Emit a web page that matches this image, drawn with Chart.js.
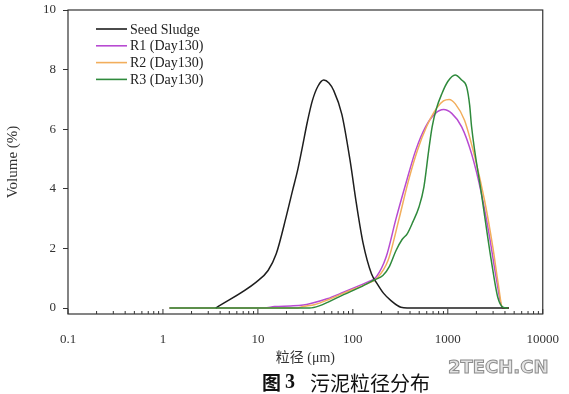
<!DOCTYPE html>
<html>
<head>
<meta charset="utf-8">
<script src="https://cdn.jsdelivr.net/npm/chart.js@4.4.1/dist/chart.umd.min.js"></script>
<style>
  html, body { margin: 0; padding: 0; background: #fff; }
  #wrap { width: 569px; height: 394px; }
</style>
</head>
<body>
<div id="wrap"><canvas id="psd"></canvas></div>
<script>
// particle size (um) and volume (%)
const seedSize = [3.6, 9.6, 12.8, 15.6, 19.8, 23.2, 26.1, 29.4, 33.2, 37.4, 43, 49.4, 56, 62.8, 76.6, 93.4, 109, 128.5, 157, 180, 210, 252, 321, 459, 4400];
const seedVol  = [0, 0.87, 1.26, 1.82, 3.05, 3.95, 4.6, 5.4, 6.25, 6.95, 7.45, 7.65, 7.55, 7.3, 6.5, 4.96, 3.5, 2.16, 1.15, 0.82, 0.5, 0.25, 0.03, 0, 0];

const r1Size = [1.17, 11.7, 15, 22, 30, 36, 53.5, 79.6, 118.6, 150, 177, 224, 285, 361, 459, 583, 740, 903, 1100, 1400, 1778, 2260, 2755, 3230, 3780, 4400];
const r1Vol  = [0, 0, 0.05, 0.07, 0.1, 0.15, 0.31, 0.53, 0.76, 0.9, 1.05, 1.71, 3.0, 4.17, 5.29, 6.08, 6.53, 6.66, 6.53, 6.08, 5.18, 3.84, 2.38, 1.03, 0, 0];

const r2Size = [1.17, 25, 30, 40, 55, 80, 120, 150, 180, 235, 307, 380, 480, 600, 760, 900, 1033, 1200, 1500, 1923, 2443, 2980, 3400, 3780, 4400];
const r2Vol  = [0, 0, 0.05, 0.12, 0.28, 0.5, 0.72, 0.85, 1.0, 1.6, 3.0, 4.2, 5.3, 6.1, 6.7, 6.95, 7.0, 6.85, 6.3, 5.07, 3.6, 2.04, 0.8, 0, 0];

const r3Size = [1.17, 35, 45, 55, 80, 120, 170, 207, 243, 285, 330, 375, 430, 497, 560, 630, 684, 760, 868, 1000, 1194, 1400, 1579, 1700, 1778, 2260, 2870, 3360, 3800, 4300];
const r3Vol  = [0, 0, 0.08, 0.2, 0.45, 0.7, 0.95, 1.09, 1.4, 1.93, 2.3, 2.5, 2.9, 3.39, 4.06, 5.3, 6.08, 6.7, 7.2, 7.6, 7.82, 7.65, 7.42, 6.8, 6.1, 3.84, 1.6, 0.36, 0.03, 0];

const seriesLabels = ['Seed Sludge', 'R1 (Day130)', 'R2 (Day130)', 'R3 (Day130)'];
const yTicks = [0, 2, 4, 6, 8, 10];
const decades = [0.1, 1, 10, 100, 1000, 10000];

function pts(xs, ys) {
    return xs.map((x, i) => ({ x: x, y: ys[i] }));
}

const serif = '"Liberation Serif", "Times New Roman", serif';
const cjk = '"Liberation Serif", "Noto Sans CJK SC", serif';

// frame, inward x ticks, legend, caption and watermark
const decor = {
    id: 'decor',
    afterDraw(chart) {
        const ctx = chart.ctx;
        const a = chart.chartArea;
        const xs = chart.scales.x;
        ctx.save();
        ctx.strokeStyle = '#333';
        ctx.lineWidth = 1.2;
        ctx.strokeRect(a.left, a.top, a.right - a.left, a.bottom - a.top);

        // x ticks pointing into the plot
        ctx.lineWidth = 1;
        for (let d = 0; d < decades.length; d++) {
            for (let m = 1; m <= 9; m++) {
                const v = decades[d] * m;
                if (v > 10000) break;
                const px = xs.getPixelForValue(v);
                const len = m === 1 ? 5 : 3;
                ctx.beginPath();
                ctx.moveTo(px, a.bottom);
                ctx.lineTo(px, a.bottom - len);
                ctx.stroke();
            }
        }

        // legend
        ctx.font = '14px ' + serif;
        ctx.textBaseline = 'middle';
        ctx.textAlign = 'left';
        chart.data.datasets.forEach((ds, i) => {
            const y = 29 + i * 16.8;
            ctx.strokeStyle = ds.borderColor;
            ctx.lineWidth = 1.6;
            ctx.beginPath();
            ctx.moveTo(96, y);
            ctx.lineTo(127, y);
            ctx.stroke();
            ctx.fillStyle = '#222';
            ctx.fillText(ds.label, 130, y + 1);
        });

        // caption
        ctx.textBaseline = 'middle';
        ctx.fillStyle = '#111';
        ctx.font = 'bold 19px "Noto Sans CJK SC"';
        ctx.fillText('图', 262, 383);
        ctx.font = 'bold 20px ' + serif;
        ctx.fillText('3', 285, 383);
        ctx.font = '20px "Noto Sans CJK SC"';
        ctx.fillText('污泥粒径分布', 310, 383);

        // watermark
        ctx.font = 'bold 18px "DejaVu Sans"';
        ctx.fillStyle = '#e4e4e4';
        ctx.strokeStyle = '#8c8c8c';
        ctx.lineWidth = 1;
        ctx.fillText('2TECH.CN', 448, 368);
        ctx.strokeText('2TECH.CN', 448, 368);
        ctx.restore();
    }
};

const ctx = document.getElementById('psd').getContext('2d');
new Chart(ctx, {
    type: 'line',
    data: {
        datasets: [
            { label: seriesLabels[0], data: pts(seedSize, seedVol), borderColor: '#1e1e1e', order: 1 },
            { label: seriesLabels[1], data: pts(r1Size, r1Vol), borderColor: '#b84bd2', order: 3 },
            { label: seriesLabels[2], data: pts(r2Size, r2Vol), borderColor: '#f2ae5c', order: 2 },
            { label: seriesLabels[3], data: pts(r3Size, r3Vol), borderColor: '#2f8a3c', order: 0 }
        ]
    },
    options: {
        responsive: true,
        maintainAspectRatio: false,
        animation: false,
        layout: { padding: { top: 10, right: 20, left: 0, bottom: 0 } },
        datasets: {
            line: {
                borderWidth: 1.5,
                pointRadius: 0,
                fill: false,
                cubicInterpolationMode: 'monotone'
            }
        },
        plugins: {
            legend: { display: false },
            tooltip: { enabled: false }
        },
        scales: {
            x: {
                type: 'logarithmic',
                min: 0.1,
                max: 10000,
                afterBuildTicks: function(scale) {
                    scale.ticks = decades.map(v => ({ value: v }));
                },
                afterFit: function(scale) { scale.height = 80; },
                border: { display: false },
                grid: { display: false },
                ticks: {
                    padding: 10,
                    color: '#333',
                    font: { family: serif, size: 13 },
                    maxRotation: 0,
                    autoSkip: false,
                    callback: function(v) { return String(v); }
                },
                title: {
                    display: true,
                    text: '粒径 (μm)',
                    color: '#333',
                    font: { family: cjk, size: 14 },
                    padding: { top: 4, bottom: 27 }
                }
            },
            y: {
                min: -0.2,
                max: 10,
                afterBuildTicks: function(scale) {
                    scale.ticks = yTicks.map(v => ({ value: v }));
                },
                afterFit: function(scale) {
                    scale.width = 68;
                    scale.paddingTop = 0;
                    scale.paddingBottom = 0;
                },
                border: { display: false },
                grid: {
                    drawOnChartArea: false,
                    drawTicks: true,
                    tickLength: 5,
                    color: '#333'
                },
                ticks: {
                    padding: 7,
                    color: '#333',
                    font: { family: serif, size: 13 }
                },
                title: {
                    display: true,
                    text: 'Volume (%)',
                    color: '#333',
                    font: { family: serif, size: 15 },
                    padding: { top: 4, bottom: 2 }
                }
            }
        }
    },
    plugins: [decor]
});
</script>
</body>
</html>
